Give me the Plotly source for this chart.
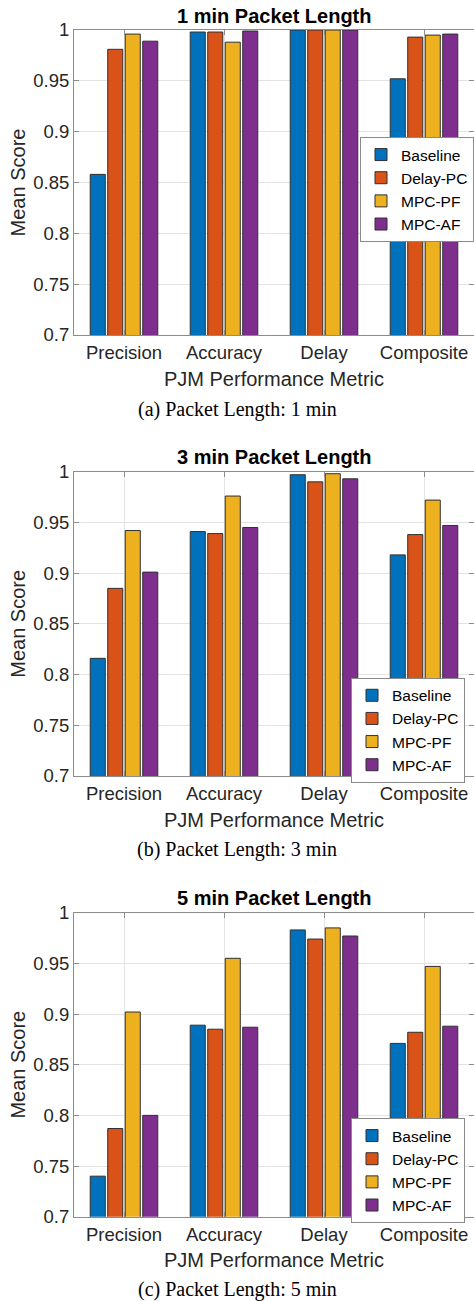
import plotly.graph_objects as go
from plotly.subplots import make_subplots

metrics = ["Precision", "Accuracy", "Delay", "Composite"]
methods = ["Baseline", "Delay-PC", "MPC-PF", "MPC-AF"]
colors = ["#0072BD", "#D95319", "#EDB120", "#7E2F8E"]

# Mean scores per packet length (rows: methods, cols: metrics)
scores_1min = {
    "Baseline": [0.858, 0.998, 1.000, 0.952],
    "Delay-PC": [0.981, 0.998, 1.000, 0.993],
    "MPC-PF":   [0.996, 0.988, 1.000, 0.995],
    "MPC-AF":   [0.989, 0.999, 1.000, 0.996],
}
scores_3min = {
    "Baseline": [0.816, 0.941, 0.997, 0.918],
    "Delay-PC": [0.885, 0.939, 0.990, 0.938],
    "MPC-PF":   [0.942, 0.976, 0.998, 0.972],
    "MPC-AF":   [0.901, 0.945, 0.993, 0.947],
}
scores_5min = {
    "Baseline": [0.740, 0.889, 0.983, 0.871],
    "Delay-PC": [0.787, 0.885, 0.974, 0.882],
    "MPC-PF":   [0.902, 0.955, 0.985, 0.947],
    "MPC-AF":   [0.800, 0.887, 0.977, 0.888],
}
panels = [scores_1min, scores_3min, scores_5min]
titles = ["1 min Packet Length", "3 min Packet Length", "5 min Packet Length"]
captions = ["(a) Packet Length: 1 min", "(b) Packet Length: 3 min", "(c) Packet Length: 5 min"]
ytickvals = [0.7, 0.75, 0.8, 0.85, 0.9, 0.95, 1.0]
yticktext = ["0.7", "0.75", "0.8", "0.85", "0.9", "0.95", "1"]

W, H = 474, 1301
# pixel layout (top, bottom) of each plot area
plot_px = [(30, 335), (471.7, 776), (912.7, 1216.7)]
legend_px = [(474, 137), (465, 677.7), (465, 1118)]
caption_y = [410, 849, 1289]
title_y = [16, 457, 898]
x0_px = 74

TXT = "#262626"
FONT = "Liberation Sans, Arial, sans-serif"

fig = make_subplots(rows=3, cols=1)
legend_names = ["legend", "legend2", "legend3"]

for i, data in enumerate(panels):
    for m, c in zip(methods, colors):
        fig.add_trace(
            go.Bar(
                x=metrics, y=data[m], name=m, marker_color=c,
                marker_line=dict(color="#303030", width=1),
                legend=legend_names[i], showlegend=True,
            ),
            row=i + 1, col=1,
        )

layout_kw = {}
for i in range(3):
    top, bot = plot_px[i]
    sfx = "" if i == 0 else str(i + 1)
    layout_kw["xaxis" + sfx] = dict(
        domain=[x0_px / W, 1.0],
        range=[-0.5, 3.5],
        showgrid=True, gridcolor="#E3E3E3", gridwidth=1,
        showline=True, linecolor="#8C8C8C", linewidth=1, mirror="ticks",
        ticks="inside", ticklen=5, tickcolor="#8C8C8C",
        tickfont=dict(size=18.5, color=TXT, family=FONT),
        ticklabelstandoff=1,
        title=dict(text="PJM Performance Metric", font=dict(size=20, color=TXT, family=FONT), standoff=9),
        automargin=False,
    )
    layout_kw["yaxis" + sfx] = dict(
        domain=[1 - bot / H, 1 - top / H],
        range=[0.7, 1.0],
        tickvals=ytickvals, ticktext=yticktext,
        showgrid=True, gridcolor="#E3E3E3", gridwidth=1,
        showline=True, linecolor="#8C8C8C", linewidth=1, mirror="ticks",
        ticks="inside", ticklen=5, tickcolor="#8C8C8C",
        tickfont=dict(size=18.5, color=TXT, family=FONT),
        ticklabelstandoff=0,
        zeroline=False,
        title=dict(text="Mean Score", font=dict(size=20, color=TXT, family=FONT), standoff=2),
        automargin=False,
    )
    lx, ly = legend_px[i]
    layout_kw[legend_names[i]] = dict(
        x=lx / W, y=1 - ly / H, xanchor="right", yanchor="top",
        bgcolor="white", bordercolor="#8A8A8A", borderwidth=1,
        font=dict(size=15.5, color="black", family=FONT),
        tracegroupgap=0, itemwidth=30,
    )

annotations = []
for i in range(3):
    annotations.append(dict(
        text="<b>%s</b>" % titles[i], x=(x0_px + W) / 2 / W, y=1 - title_y[i] / H,
        xref="paper", yref="paper", showarrow=False, xanchor="center", yanchor="middle",
        font=dict(size=20, color="black", family=FONT),
    ))
    annotations.append(dict(
        text=captions[i], x=0.5, y=1 - caption_y[i] / H,
        xref="paper", yref="paper", showarrow=False, xanchor="center", yanchor="middle",
        font=dict(size=20, color="black", family="Liberation Serif, Times New Roman, serif"),
    ))

fig.update_layout(
    width=W, height=H,
    margin=dict(l=0, r=0, t=0, b=0),
    paper_bgcolor="white", plot_bgcolor="white",
    barmode="group", bargap=0.3, bargroupgap=0.14,
    annotations=annotations,
    **layout_kw,
)

fig.write_html(
    "out.html",
    config={"displayModeBar": False},
    post_script="document.body.style.margin='0';document.body.style.overflow='hidden';",
)
